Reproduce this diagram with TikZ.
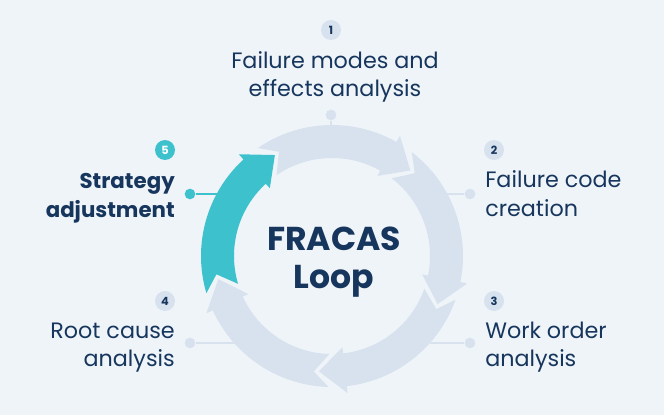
\documentclass[tikz,border=0pt]{standalone}
\usepackage{fontspec}
\setmainfont{Poppins}
\usetikzlibrary{positioning}

\definecolor{pagebg}{HTML}{EFF4F9}
\definecolor{ringblue}{HTML}{D7E2EE}
\definecolor{loopteal}{HTML}{3DC1CD}
\definecolor{navy}{HTML}{17365D}

\newcommand{\looparrow}[2]{%
    \fill[#2, shift={(332,159)}]
        (#1+77:131) arc[start angle=#1+77, end angle=#1+13, radius=131]
        -- (#1+13:138) -- (#1:116) -- (#1+13:92) -- (#1+13:98)
        arc[start angle=#1+13, end angle=#1+77, radius=98]
        -- (#1+69.5:117) -- cycle;
}

\begin{document}
\begin{tikzpicture}[
    x=0.75pt, y=0.75pt,
    badge/.style={
        circle, fill=ringblue,
        minimum size=15pt, inner sep=0pt,
        text=navy, font=\fontsize{8.5}{10}\selectfont\bfseries
    },
    badgeon/.style={badge, fill=loopteal, text=white},
    dot/.style={circle, fill=ringblue, minimum size=8pt, inner sep=0pt},
    doton/.style={dot, fill=loopteal},
    label/.style={
        text=navy, inner sep=0pt,
        font=\fontsize{16.7}{21.5}\selectfont
    },
    labelon/.style={label, font=\fontsize{16}{21.5}\selectfont\bfseries},
    leader/.style={draw=ringblue, line width=1.5pt},
    title/.style={
        text=navy, align=center, inner sep=0pt,
        font=\fontsize{24.8}{28.5}\selectfont\bfseries
    }
]

\fill[pagebg] (0,0) rectangle (664,415);
\useasboundingbox (0,0) rectangle (664,415);

% Steps
\node[badge] (badgeA) at (331,385) {1};
\node[label, align=center] (labelA) at (335,338) {Failure modes and\\effects analysis};
\node[dot] (dotA) at (331,300) {};
\coordinate (ringA) at (331,285);

\node[badge] (badgeB) at (494,265) {2};
\node[label, align=left, anchor=west] (labelB) at (485,221.5) {Failure code\\creation};
\node[dot] (dotB) at (470,221) {};
\coordinate (ringB) at (445,221);

\node[badge] (badgeC) at (494,114) {3};
\node[label, align=left, anchor=west] (labelC) at (485,68) {Work order\\analysis};
\node[dot] (dotC) at (470,72) {};
\coordinate (ringC) at (430,72);

\node[badge] (badgeD) at (165,114) {4};
\node[label, align=right, anchor=east] (labelD) at (175,67.5) {Root cause\\analysis};
\node[dot] (dotD) at (190,72) {};
\coordinate (ringD) at (235,72);

\node[badgeon] (badgeE) at (165,265) {5};
\node[labelon, align=right, anchor=east] (labelE) at (175,217) {Strategy\\adjustment};
\node[doton] (dotE) at (190,221) {};
\coordinate (ringE) at (225,221);

% Connecting line
\draw[leader] (dotA) -- (ringA);
\draw[leader] (dotB) -- (ringB);
\draw[leader] (dotC) -- (ringC);
\draw[leader] (dotD) -- (ringD);
\draw[leader, draw=loopteal] (dotE) -- (ringE);

% Ring
\looparrow{47.5}{ringblue}
\looparrow{-24.5}{ringblue}
\looparrow{-96.5}{ringblue}
\looparrow{-168.5}{ringblue}
\looparrow{119.5}{loopteal}

\node[title] (title) at (334,153) {FRACAS\\Loop};

\end{tikzpicture}
\end{document}
